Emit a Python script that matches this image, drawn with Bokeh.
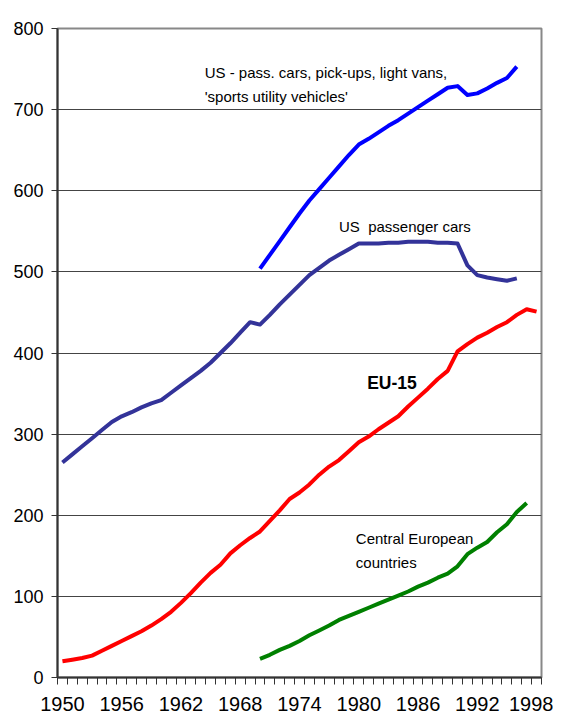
from bokeh.plotting import figure
from bokeh.models import FixedTicker, Label, Range1d
from bokeh.embed import file_html
from bokeh.resources import INLINE

# ---- data (vehicles per 1000 inhabitants) ----
years_all = list(range(1950, 1999))
years_us = list(range(1950, 1997))
years_70 = list(range(1970, 1998))
years_70_96 = list(range(1970, 1997))

us_cars = [265, 275, 285, 295, 305, 315, 322, 327, 333, 338,
           342, 351, 360, 369, 378, 388, 400, 412, 425, 438,
           435, 447, 460, 472, 484, 496, 505, 514, 521, 528,
           535, 535, 535, 536, 536, 537, 537, 537, 536, 536,
           535, 508, 496, 493, 491, 489, 492]

us_all = [504, 521, 538, 555, 572, 588, 602, 616, 630, 644,
          657, 664, 672, 680, 687, 695, 703, 711, 719, 727,
          729, 718, 720, 726, 733, 739, 753]

eu15 = [20, 22, 24, 27, 33, 39, 45, 51, 57, 64,
        72, 81, 92, 104, 117, 129, 139, 153, 163, 172,
        180, 193, 206, 220, 228, 238, 250, 260, 268, 279,
        290, 297, 306, 314, 322, 334, 345, 356, 368, 378,
        402, 411, 419, 425, 432, 438, 447, 454, 451]

central = [23, 28, 34, 39, 45, 52, 58, 64, 71, 76,
           81, 86, 91, 96, 101, 106, 112, 117, 123, 128,
           137, 152, 160, 167, 179, 189, 204, 215]

label_years = list(range(1950, 1999, 6))
y_ticks = list(range(0, 801, 100))

FONT = "Liberation Sans"

p = figure(frame_width=484, frame_height=649,
           x_range=Range1d(1949.5, 1998.5), y_range=Range1d(0, 800),
           output_backend="svg", toolbar_location=None,
           min_border_left=57, min_border_top=28, min_border_right=12,
           min_border_bottom=40)

p.background_fill_color = "white"
p.border_fill_color = "white"
p.outline_line_color = "#888888"
p.outline_line_width = 2

# grid
p.xgrid.visible = False
p.ygrid.ticker = FixedTicker(ticks=y_ticks)
p.ygrid.grid_line_color = "#444444"
p.ygrid.grid_line_width = 1

# y axis
p.yaxis.ticker = FixedTicker(ticks=y_ticks)
p.yaxis.axis_line_color = "#333333"
p.yaxis.axis_line_width = 2
p.yaxis.major_tick_line_color = "#333333"
p.yaxis.major_tick_out = 6
p.yaxis.major_tick_in = 0
p.yaxis.minor_tick_line_color = None
p.yaxis.major_label_standoff = 8
p.yaxis.major_label_text_font = FONT
p.yaxis.major_label_text_font_size = "18px"
p.yaxis.major_label_text_color = "black"

# x axis (category-style: ticks at boundaries, labels every 6 years)
boundaries = [y - 0.5 for y in years_all] + [years_all[-1] + 0.5]
p.xaxis.ticker = FixedTicker(ticks=label_years, minor_ticks=boundaries)
p.xaxis.axis_line_color = "#333333"
p.xaxis.axis_line_width = 2
p.xaxis.major_tick_line_color = None
p.xaxis.major_tick_out = 7
p.xaxis.major_tick_in = 0
p.xaxis.minor_tick_line_color = "#333333"
p.xaxis.minor_tick_out = 7
p.xaxis.minor_tick_in = 0
p.xaxis.major_label_standoff = 12
p.xaxis.major_label_text_font = FONT
p.xaxis.major_label_text_font_size = "20px"
p.xaxis.major_label_text_color = "black"

LW = 4
p.line(years_70_96, us_all, line_color="#0000FF", line_width=LW, line_join="round")
p.line(years_us, us_cars, line_color="#333399", line_width=LW, line_join="round")
p.line(years_all, eu15, line_color="#FF0000", line_width=LW, line_join="round")
p.line(years_70, central, line_color="#008000", line_width=LW, line_join="round")

def lab(x, y, text, bold=False, size="15px"):
    p.add_layout(Label(x=x, y=y, text=text, text_font=FONT, text_font_size=size,
                       text_font_style="bold" if bold else "normal",
                       text_color="black", text_align="left",
                       text_baseline="alphabetic"))

lab(1964.4, 745.5, "US - pass. cars, pick-ups, light vans,")
lab(1964.4, 716.0, "'sports utility vehicles'")
lab(1978.0, 556.0, "US\u00a0 passenger cars")
lab(1980.85, 362.5, "EU-15", bold=True, size="17.5px")
lab(1979.7, 171.5, "Central European")
lab(1979.7, 142.0, "countries")

open("out.html", "w").write(file_html(p, INLINE))
